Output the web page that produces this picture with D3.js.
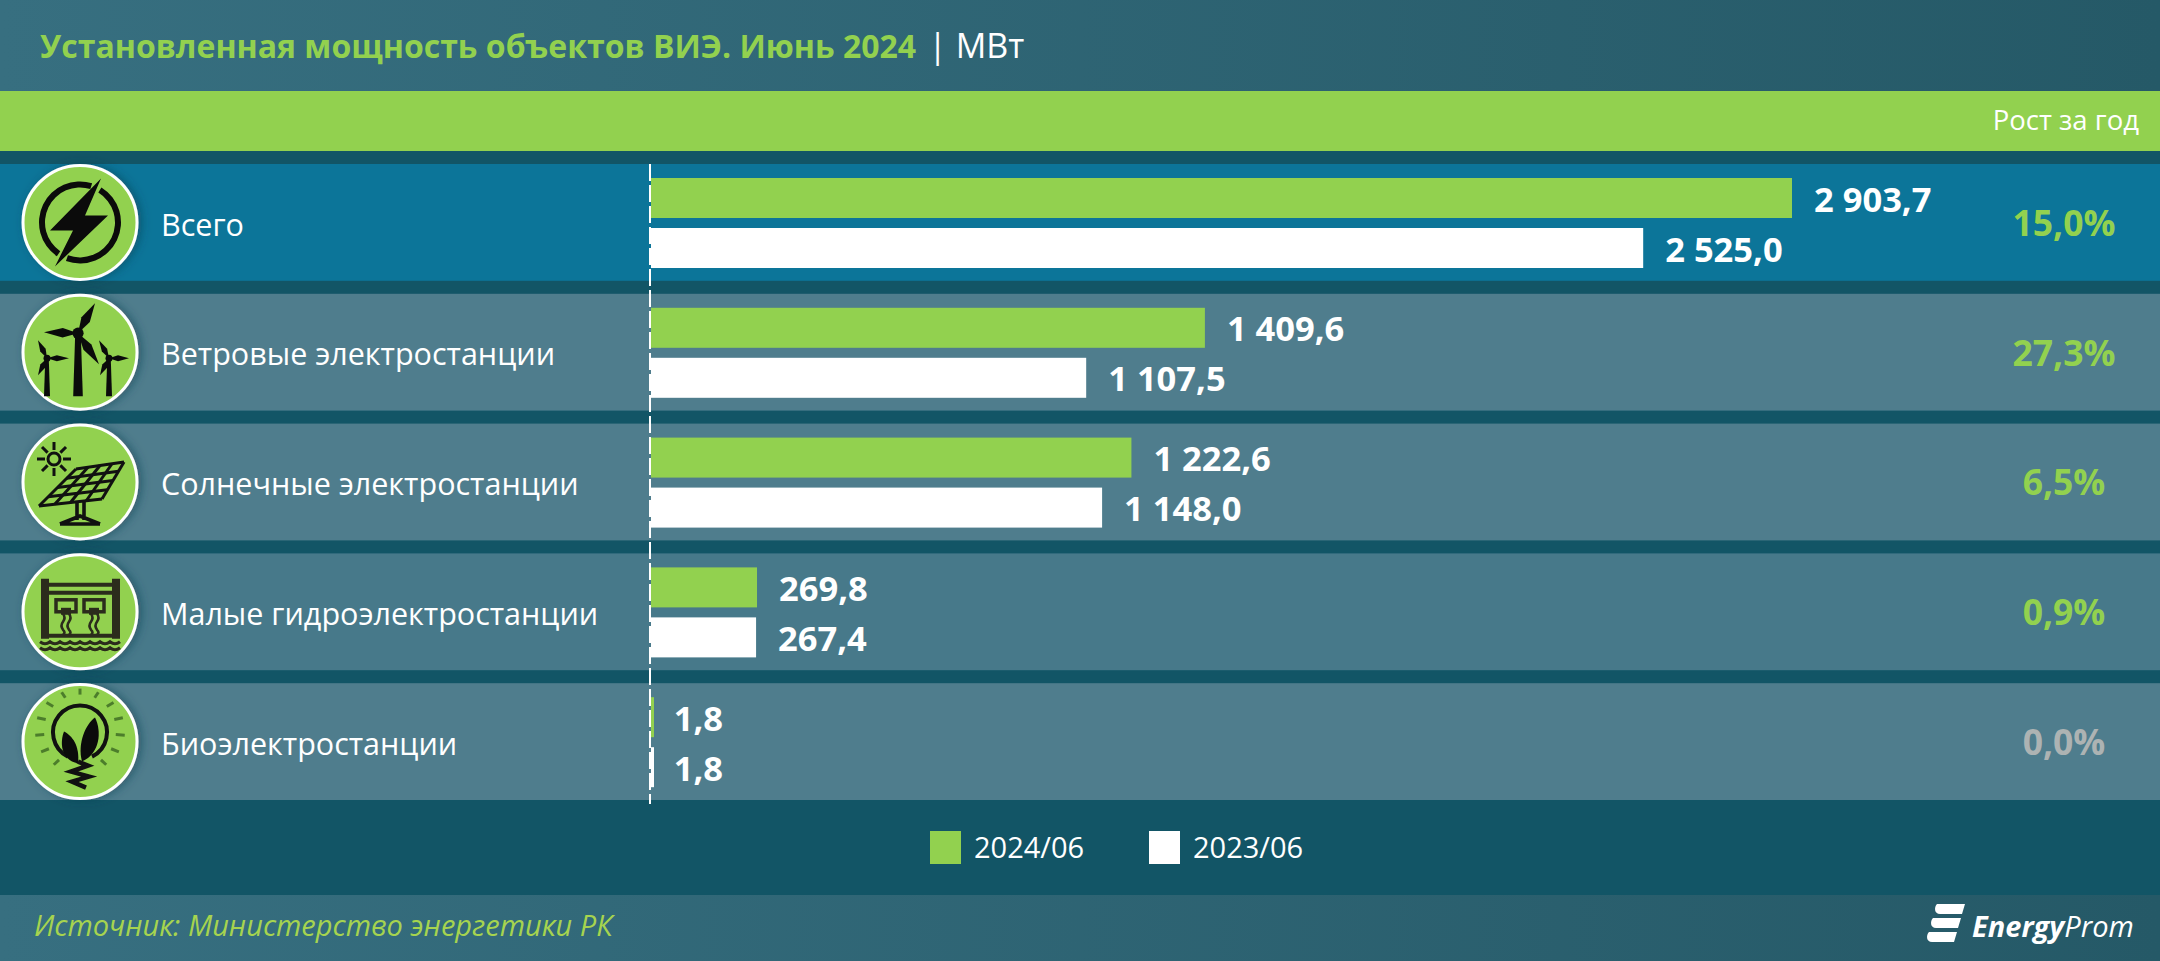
<!DOCTYPE html>
<html lang="ru">
<head>
<meta charset="utf-8">
<title>Установленная мощность объектов ВИЭ</title>
<script src="https://cdn.jsdelivr.net/npm/d3@7"></script>
<style>
  html, body { margin: 0; padding: 0; background: #125566; }
  svg { display: block; }
  text { font-family: "Open Sans", "Noto Sans", sans-serif; }
</style>
</head>
<body>
<div id="chart"></div>
<script>
const categories = ["Всего", "Ветровые электростанции", "Солнечные электростанции", "Малые гидроэлектростанции", "Биоэлектростанции"];
const seriesNames = ["2024/06", "2023/06"];
const values2024 = [2903.7, 1409.6, 1222.6, 269.8, 1.8];
const values2023 = [2525.0, 1107.5, 1148.0, 267.4, 1.8];
const growth = [15.0, 27.3, 6.5, 0.9, 0.0];
const iconNames = ["bolt", "wind", "solar", "hydro", "bio"];

const width = 2160, height = 961;
const green = "#92d14f", dark = "#125566";

const svg = d3.select("#chart").append("svg")
  .attr("width", width)
  .attr("height", height);

const defs = svg.append("defs");
const grad = defs.append("linearGradient").attr("id", "band");
grad.append("stop").attr("offset", "0%").attr("stop-color", "#376f80");
grad.append("stop").attr("offset", "100%").attr("stop-color", "#255967");
const shadow = defs.append("filter").attr("id", "soft")
  .attr("x", "-30%").attr("y", "-30%").attr("width", "160%").attr("height", "160%");
shadow.append("feDropShadow").attr("dx", 3).attr("dy", 0).attr("stdDeviation", 5)
  .attr("flood-color", "#12404f").attr("flood-opacity", 0.55);

// Background bands
svg.append("rect").attr("width", width).attr("height", height).attr("fill", dark);
svg.append("rect").attr("width", width).attr("height", 91).attr("fill", "url(#band)");
svg.append("rect").attr("y", 91).attr("width", width).attr("height", 60).attr("fill", green);
svg.append("rect").attr("y", 895).attr("width", width).attr("height", 66).attr("fill", "url(#band)");

// Title
const title = svg.append("text").attr("x", 40).attr("y", 58).attr("font-size", 32);
title.append("tspan").attr("font-weight", 700).attr("fill", green)
  .text("Установленная мощность объектов ВИЭ. Июнь 2024");
title.append("tspan").attr("fill", "#fff").attr("dx", 12).attr("font-size", 34).text("| МВт");

svg.append("text")
  .attr("x", 2139).attr("y", 120).attr("dy", "0.35em")
  .attr("text-anchor", "end").attr("font-size", 27.5).attr("fill", "#fff")
  .text("Рост за год");

// Scales
const y = d3.scaleBand().domain(categories).range([164, 800]).paddingInner(0.1).paddingOuter(0);
const inner = d3.scaleBand().domain(seriesNames).range([14, 104]).paddingInner(0.2);
const x = d3.scaleLinear().domain([0, values2024[0]]).range([651, 1792]);
const color = d3.scaleOrdinal().domain(seriesNames).range([green, "#fff"]);

const locale = d3.formatLocale({ decimal: ",", thousands: " ", grouping: [3] });
const fmt = locale.format(",.1f");
const pct = locale.format(".1f");

const rows = svg.append("g").selectAll("g")
  .data(categories)
  .join("g")
  .attr("transform", d => `translate(0,${y(d)})`);

rows.append("rect")
  .attr("width", width)
  .attr("height", y.bandwidth())
  .attr("fill", (d, i) => i === 0 ? "#0c7599" : (i === 3 ? "#47798a" : "#4f7d8d"));

rows.append("text")
  .attr("x", 161)
  .attr("y", y.bandwidth() / 2 + 2.5)
  .attr("dy", "0.35em")
  .attr("font-size", 30.5)
  .attr("fill", "#fff")
  .text(d => d);

// Bars and value labels
seriesNames.forEach((name, s) => {
  const vals = s === 0 ? values2024 : values2023;
  rows.append("rect")
    .attr("x", x(0))
    .attr("y", inner(name))
    .attr("width", (d, i) => Math.max(x(vals[i]) - x(0), 3))
    .attr("height", inner.bandwidth())
    .attr("fill", color(name));
  rows.append("text")
    .attr("x", (d, i) => x(vals[i]) + 22)
    .attr("y", inner(name) + inner.bandwidth() / 2 + 1.5)
    .attr("dy", "0.35em")
    .attr("font-size", 34.5)
    .attr("font-weight", 700)
    .attr("fill", "#fff")
    .text((d, i) => fmt(vals[i]));
});

// Growth column
rows.append("text")
  .attr("x", 2064)
  .attr("y", y.bandwidth() / 2 + 1)
  .attr("dy", "0.35em")
  .attr("text-anchor", "middle")
  .attr("font-size", 35.5)
  .attr("font-weight", 700)
  .attr("fill", (d, i) => growth[i] === 0 ? "#adb3b3" : green)
  .text((d, i) => pct(growth[i]) + "%");

// Zero line
svg.append("line")
  .attr("x1", x(0) - 1).attr("x2", x(0) - 1)
  .attr("y1", 164).attr("y2", 804)
  .attr("stroke", "#fff").attr("stroke-width", 2)
  .attr("stroke-dasharray", "17 4");

// Icons, drawn around the centre of a 116px disc
const icons = {
  bolt(g) {
    g.append("path").attr("d", d3.arc()({ innerRadius: 35, outerRadius: 41, startAngle: 0.55, endAngle: Math.PI + 0.35 }));
    g.append("path").attr("d", d3.arc()({ innerRadius: 35, outerRadius: 41, startAngle: Math.PI + 0.6, endAngle: 2 * Math.PI + 0.3 }));
    g.append("path").attr("d", "M21,-44 L-30,8 L-7,8 L-25,44 L28,-7 L5,-7 Z");
  },
  wind(g) {
    const turbine = (hx, hy, base, w, blades) => {
      g.append("path").attr("d", `M${hx - w * 0.35},${hy} L${hx - w * 0.6},${base} L${hx + w * 0.6},${base} L${hx + w * 0.35},${hy} Z`);
      blades.forEach(([bx, by]) => {
        const a = Math.atan2(by - hy, bx - hx), nx = -Math.sin(a) * w * 0.6, ny = Math.cos(a) * w * 0.6;
        const mx = hx + (bx - hx) * 0.45, my = hy + (by - hy) * 0.45;
        g.append("path").attr("d", `M${hx},${hy} L${mx + nx},${my + ny} L${bx},${by} L${mx - nx},${my - ny} Z`);
      });
      g.append("circle").attr("cx", hx).attr("cy", hy).attr("r", w * 0.7);
    };
    turbine(-2, -19, 44, 8, [[15, -49], [-36, -20], [19, 12]]);
    turbine(-33, 6, 44, 5, [[-42, -12], [-11, 6], [-42, 23]]);
    turbine(29, 6, 44, 5, [[19, -12], [49, 6], [20, 23]]);
  },
  solar(g) {
    const sun = g.append("g").attr("transform", "translate(-26,-23)");
    sun.append("circle").attr("r", 6).attr("fill", "none").attr("stroke", "#111").attr("stroke-width", 3);
    d3.range(8).forEach(k => {
      const a = k * Math.PI / 4;
      sun.append("line")
        .attr("x1", 9 * Math.cos(a)).attr("y1", 9 * Math.sin(a))
        .attr("x2", 17 * Math.cos(a)).attr("y2", 17 * Math.sin(a))
        .attr("stroke", "#111").attr("stroke-width", 3);
    });
    const tl = [-4, -13], tr = [44, -20], bl = [-41, 24], br = [22, 17];
    const mix = (p, q, t) => [p[0] + (q[0] - p[0]) * t, p[1] + (q[1] - p[1]) * t];
    const lines = [];
    d3.range(5).forEach(k => {
      lines.push([mix(tl, tr, k / 4), mix(bl, br, k / 4)]);
      lines.push([mix(tl, bl, k / 4), mix(tr, br, k / 4)]);
    });
    g.selectAll(null).data(lines).join("line")
      .attr("x1", d => d[0][0]).attr("y1", d => d[0][1])
      .attr("x2", d => d[1][0]).attr("y2", d => d[1][1])
      .attr("stroke", "#111").attr("stroke-width", 3);
    g.append("path").attr("d", "M-3,21 L-3,38 M4,20 L4,38 M-20,42 L0,34 L20,42 M-20,42 L20,42")
      .attr("fill", "none").attr("stroke", "#111").attr("stroke-width", 3.6);
  },
  hydro(g) {
    const ink = "#2b2c1c";
    g.append("path").attr("fill", ink)
      .attr("d", "M-39,-33 h8 v60 h-8 Z M32,-33 h8 v60 h-8 Z M-31,-29 h63 v4 h-63 Z M-31,-21 h63 v4 h-63 Z M-31,22 h63 v4 h-63 Z");
    [-14, 14].forEach(cx => {
      g.append("rect").attr("x", cx - 10).attr("y", -12).attr("width", 20).attr("height", 12)
        .attr("fill", "none").attr("stroke", ink).attr("stroke-width", 3.5);
      g.append("rect").attr("x", cx - 5).attr("y", -4).attr("width", 10).attr("height", 7).attr("fill", ink);
      [-3, 3].forEach(o => {
        g.append("path").attr("fill", "none").attr("stroke", ink).attr("stroke-width", 2.6)
          .attr("d", `M${cx + o},2 q3,4 0,8 q-3,4 0,8 q3,3 0,5`);
      });
    });
    [30, 36].forEach(wy => {
      g.append("path").attr("fill", "none").attr("stroke", ink).attr("stroke-width", 3)
        .attr("d", `M-40,${wy} q5,4 10,0 q5,4 10,0 q5,4 10,0 q5,4 10,0 q5,4 10,0 q5,4 10,0 q5,4 10,0 q5,4 10,0`);
    });
  },
  bio(g) {
    g.append("path").attr("fill", "none").attr("stroke", "#111").attr("stroke-width", 4)
      .attr("d", "M-12,15 A27,27 0 1 1 12,15");
    g.append("path").attr("d", "M-2,22 C-20,18 -20,0 -16,-10 C-8,-6 0,4 -2,22 Z");
    g.append("path").attr("d", "M2,20 C-3,2 6,-18 15,-24 C22,-10 20,12 2,20 Z");
    g.append("path").attr("fill", "none").attr("stroke", "#111").attr("stroke-width", 4.5)
      .attr("d", "M-2,20 L8,24 L-9,30 L9,35 L-8,40 L6,46");
    d3.range(-6, 7).forEach(k => {
      const a = k * 0.42 - Math.PI / 2;
      g.append("line")
        .attr("x1", 36 * Math.cos(a)).attr("y1", -11 + 36 * Math.sin(a))
        .attr("x2", 45 * Math.cos(a)).attr("y2", -11 + 42 * Math.sin(a))
        .attr("stroke", "#4c7d2b").attr("stroke-width", 3);
    });
  }
};

rows.each(function (d, i) {
  const g = d3.select(this).append("g")
    .attr("transform", `translate(80,${y.bandwidth() / 2})`);
  g.append("circle").attr("r", 57).attr("fill", green)
    .attr("stroke", "#fff").attr("stroke-width", 3)
    .attr("filter", "url(#soft)");
  icons[iconNames[i]](g.append("g").attr("fill", "#0b0b0b"));
});

// Legend
const legendX = d3.scaleOrdinal().domain(seriesNames).range([930, 1149]);
const legend = svg.append("g").selectAll("g")
  .data(seriesNames)
  .join("g")
  .attr("transform", d => `translate(${legendX(d)},831)`);
legend.append("rect").attr("width", 31).attr("height", 33).attr("fill", d => color(d));
legend.append("text")
  .attr("x", 44).attr("y", 17).attr("dy", "0.35em")
  .attr("font-size", 29).attr("fill", "#fff")
  .text(d => d);

// Footer
svg.append("text")
  .attr("x", 34).attr("y", 926)
  .attr("font-size", 29).attr("font-style", "italic")
  .attr("dy", "0.35em").attr("fill", "#a6d44f")
  .text("Источник: Министерство энергетики РК");

const logo = svg.append("g").attr("transform", "translate(1928,904)").attr("fill", "#fff");
logo.append("path").attr("d", "M9,0 H37 L34,10 H12 C6,10 6,3 9,0 Z");
logo.append("path").attr("d", "M5,14 H33 L30,24 H8 C2,24 2,17 5,14 Z");
logo.append("path").attr("d", "M1,28 H29 L26,38 H4 C-2,38 -2,31 1,28 Z");
const logoText = logo.append("text").attr("x", 44).attr("y", 33).attr("font-size", 29).attr("font-style", "italic");
logoText.append("tspan").attr("font-weight", 700).text("Energy");
logoText.append("tspan").text("Prom");
</script>
</body>
</html>
